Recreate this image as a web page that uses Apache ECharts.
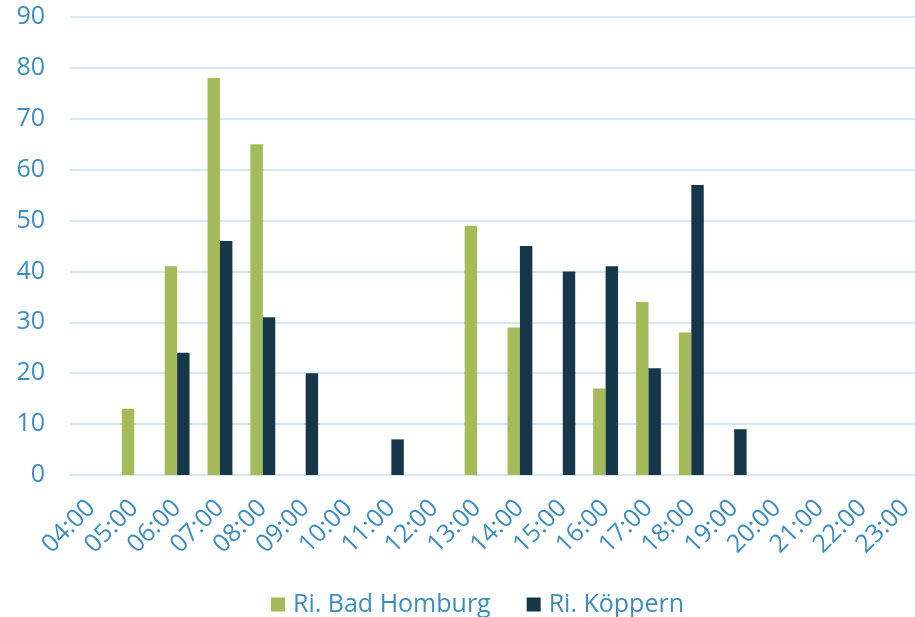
<!DOCTYPE html>
<html>
<head>
<meta charset="utf-8">
<script src="https://cdn.jsdelivr.net/npm/echarts@6/dist/echarts.min.js"></script>
<style>html,body{margin:0;padding:0;background:#fff}#c{width:915px;height:617px}</style>
</head>
<body>
<div id="c"></div>
<script>
const categories = ['04:00','05:00','06:00','07:00','08:00','09:00','10:00','11:00','12:00','13:00','14:00','15:00','16:00','17:00','18:00','19:00','20:00','21:00','22:00','23:00'];
const badHomburg = [null,13,41,78,65,null,null,null,null,49,29,null,17,34,28,null,null,null,null,null];
const koeppern   = [null,null,24,46,31,20,null,7,null,null,45,40,41,21,57,9,null,null,null,null];
const yTicks = { min: 0, max: 90, interval: 10 };

const labelColor = '#3A8EC3';
const gridColor = '#D4E7F3';
const font = 'Open Sans';

const chart = echarts.init(document.getElementById('c'), null, { renderer: 'canvas' });
chart.setOption({
  animation: false,
  backgroundColor: '#ffffff',
  grid: { left: 70, right: -12, top: 17, bottom: 142, containLabel: false, outerBoundsMode: 'none' },
  legend: {
    top: 587,
    left: 266,
    itemWidth: 14,
    itemHeight: 14,
    itemGap: 36,
    icon: 'rect',
    textStyle: { color: labelColor, fontSize: 25, fontFamily: font, padding: [0, 0, 0, 3] },
    data: ['Ri. Bad Homburg', 'Ri. Köppern']
  },
  xAxis: {
    type: 'category',
    data: categories,
    boundaryGap: true,
    axisTick: { show: false },
    axisLine: { lineStyle: { color: gridColor, width: 2 } },
    axisLabel: { color: labelColor, fontSize: 25, fontFamily: font, rotate: 45, margin: 29, interval: 0 }
  },
  yAxis: {
    type: 'value',
    min: yTicks.min, max: yTicks.max, interval: yTicks.interval,
    axisLine: { show: false },
    axisTick: { show: false },
    splitLine: { lineStyle: { color: gridColor, width: 2 } },
    axisLabel: { color: labelColor, fontSize: 25, fontFamily: font, margin: 25 }
  },
  series: [
    { name: 'Ri. Bad Homburg', type: 'bar', data: badHomburg, barGap: '0%', barCategoryGap: '42%',
      itemStyle: { color: '#A5BB59' } },
    { name: 'Ri. Köppern', type: 'bar', data: koeppern, barGap: '0%', barCategoryGap: '42%',
      itemStyle: { color: '#16374A' } }
  ]
});
</script>
</body>
</html>
